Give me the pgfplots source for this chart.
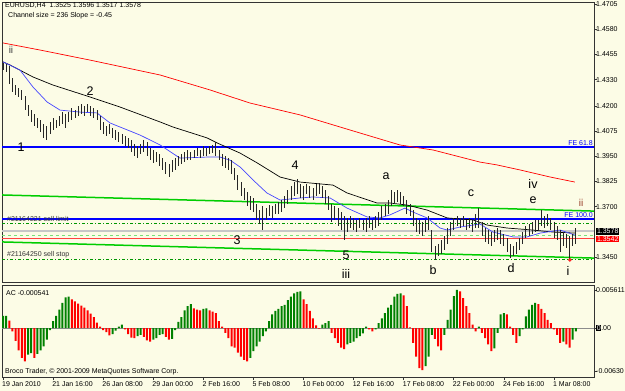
\documentclass[border=0pt]{standalone}
\usepackage{fontspec}
\setmainfont{Liberation Sans}
\usepackage{pgfplots}
\usepackage{pgfplotstable}
\pgfplotsset{compat=1.18}
\definecolor{bg}{RGB}{252,252,230}
\definecolor{acgreen}{RGB}{0,128,0}
\definecolor{acred}{RGB}{255,0,0}
\definecolor{chgreen}{RGB}{0,205,0}
\definecolor{mablue}{RGB}{70,70,255}
\definecolor{ordgreen}{RGB}{0,150,0}
\definecolor{lgreen}{RGB}{120,225,120}
\definecolor{brownlab}{RGB}{150,60,40}
\newcommand\sm{\fontsize{7}{8}\selectfont}
\newcommand\wv{\fontsize{12.5}{13}\selectfont}
\setlength{\fboxsep}{0.6pt}

\pgfplotstableread{
i h l
0 1.4413 1.4378
1 1.4408 1.4368
2 1.4398 1.4308
3 1.4338 1.4269
4 1.4303 1.4254
5 1.4289 1.4244
6 1.4279 1.4229
7 1.4249 1.4179
8 1.4204 1.4150
9 1.4179 1.4120
10 1.4160 1.4100
11 1.4140 1.4090
12 1.4130 1.4070
13 1.4110 1.4041
14 1.4100 1.4031
15 1.4120 1.4060
16 1.4140 1.4080
17 1.4130 1.4090
18 1.4150 1.4100
19 1.4169 1.4110
20 1.4160 1.4090
21 1.4169 1.4120
22 1.4189 1.4130
23 1.4179 1.4140
24 1.4199 1.4150
25 1.4209 1.4160
26 1.4199 1.4150
27 1.4209 1.4169
28 1.4199 1.4150
29 1.4189 1.4140
30 1.4179 1.4130
31 1.4150 1.4080
32 1.4120 1.4060
33 1.4100 1.4050
34 1.4110 1.4060
35 1.4090 1.4041
36 1.4080 1.4031
37 1.4070 1.4021
38 1.4060 1.4011
39 1.4050 1.4001
40 1.4041 1.3991
41 1.4031 1.3971
42 1.4011 1.3951
43 1.4001 1.3941
44 1.4011 1.3961
45 1.4031 1.3971
46 1.4021 1.3951
47 1.3991 1.3931
48 1.3981 1.3917
49 1.3971 1.3921
50 1.3961 1.3902
51 1.3941 1.3882
52 1.3921 1.3862
53 1.3912 1.3847
54 1.3931 1.3872
55 1.3941 1.3882
56 1.3951 1.3902
57 1.3961 1.3912
58 1.3971 1.3921
59 1.3981 1.3931
60 1.3971 1.3931
61 1.3981 1.3941
62 1.3991 1.3951
63 1.3981 1.3941
64 1.4001 1.3951
65 1.3991 1.3951
66 1.4001 1.3961
67 1.4006 1.3966
68 1.4021 1.3951
69 1.3981 1.3931
70 1.3961 1.3902
71 1.3951 1.3892
72 1.3941 1.3882
73 1.3931 1.3862
74 1.3892 1.3832
75 1.3857 1.3783
76 1.3822 1.3753
77 1.3793 1.3733
78 1.3773 1.3703
79 1.3753 1.3683
80 1.3743 1.3673
81 1.3713 1.3634
82 1.3683 1.3614
83 1.3703 1.3584
84 1.3693 1.3634
85 1.3708 1.3654
86 1.3703 1.3644
87 1.3713 1.3664
88 1.3723 1.3664
89 1.3733 1.3673
90 1.3753 1.3693
91 1.3783 1.3713
92 1.3802 1.3733
93 1.3822 1.3753
94 1.3837 1.3763
95 1.3812 1.3743
96 1.3802 1.3733
97 1.3812 1.3763
98 1.3802 1.3743
99 1.3793 1.3733
100 1.3812 1.3753
101 1.3817 1.3763
102 1.3802 1.3743
103 1.3783 1.3713
104 1.3753 1.3683
105 1.3713 1.3624
106 1.3703 1.3634
107 1.3693 1.3604
108 1.3673 1.3584
109 1.3654 1.3535
110 1.3644 1.3574
111 1.3654 1.3594
112 1.3644 1.3584
113 1.3634 1.3574
114 1.3644 1.3594
115 1.3634 1.3584
116 1.3644 1.3574
117 1.3654 1.3594
118 1.3634 1.3584
119 1.3654 1.3594
120 1.3673 1.3604
121 1.3703 1.3634
122 1.3713 1.3654
123 1.3733 1.3664
124 1.3783 1.3703
125 1.3773 1.3713
126 1.3783 1.3723
127 1.3773 1.3713
128 1.3753 1.3703
129 1.3733 1.3664
130 1.3713 1.3654
131 1.3683 1.3604
132 1.3644 1.3574
133 1.3634 1.3564
134 1.3624 1.3554
135 1.3634 1.3574
136 1.3654 1.3584
137 1.3584 1.3475
138 1.3505 1.3435
139 1.3515 1.3455
140 1.3535 1.3465
141 1.3554 1.3485
142 1.3594 1.3515
143 1.3624 1.3554
144 1.3644 1.3584
145 1.3654 1.3604
146 1.3644 1.3594
147 1.3654 1.3604
148 1.3634 1.3584
149 1.3644 1.3594
150 1.3634 1.3574
151 1.3664 1.3594
152 1.3693 1.3594
153 1.3624 1.3554
154 1.3594 1.3525
155 1.3584 1.3515
156 1.3574 1.3505
157 1.3584 1.3525
158 1.3594 1.3535
159 1.3584 1.3515
160 1.3564 1.3505
161 1.3545 1.3475
162 1.3515 1.3445
163 1.3505 1.3455
164 1.3525 1.3465
165 1.3545 1.3485
166 1.3574 1.3515
167 1.3604 1.3545
168 1.3614 1.3554
169 1.3624 1.3564
170 1.3634 1.3574
171 1.3634 1.3584
172 1.3683 1.3604
173 1.3654 1.3594
174 1.3664 1.3604
175 1.3644 1.3584
176 1.3624 1.3545
177 1.3604 1.3535
178 1.3584 1.3475
179 1.3574 1.3505
180 1.3564 1.3495
181 1.3554 1.3430
182 1.3564 1.3505
183 1.3596 1.3517
}\bars

\pgfplotstableread{
i g r
0 0.0018 nan
1 0.0018 nan
2 nan 0.0011
3 nan -0.0005
4 nan -0.0019
5 nan -0.0033
6 nan -0.0044
7 nan -0.0049
8 -0.0039 nan
9 -0.0037 nan
10 nan -0.0044
11 -0.0038 nan
12 -0.0033 nan
13 -0.0027 nan
14 -0.0017 nan
15 -0.0003 nan
16 0.0010 nan
17 0.0018 nan
18 0.0027 nan
19 0.0037 nan
20 0.0045 nan
21 0.0046 nan
22 nan 0.0042
23 nan 0.0039
24 nan 0.0036
25 nan 0.0033
26 nan 0.0030
27 nan 0.0026
28 nan 0.0021
29 nan 0.0016
30 nan 0.0008
31 nan 0.0002
32 nan -0.0003
33 nan -0.0006
34 nan -0.0011
35 -0.0009 nan
36 -0.0004 nan
37 0.0002 nan
38 0.0005 nan
39 nan -0.0002
40 nan -0.0009
41 nan -0.0014
42 nan -0.0015
43 -0.0012 nan
44 -0.0010 nan
45 nan -0.0013
46 nan -0.0018
47 nan -0.0020
48 -0.0017 nan
49 -0.0015 nan
50 -0.0010 nan
51 -0.0009 nan
52 nan -0.0013
53 nan -0.0017
54 -0.0016 nan
55 -0.0003 nan
56 0.0009 nan
57 0.0016 nan
58 0.0026 nan
59 0.0032 nan
60 0.0035 nan
61 nan 0.0029
62 nan 0.0027
63 nan 0.0026
64 0.0028 nan
65 0.0029 nan
66 nan 0.0026
67 nan 0.0024
68 nan 0.0022
69 nan 0.0010
70 nan 0.0002
71 nan -0.0007
72 nan -0.0015
73 nan -0.0027
74 nan -0.0029
75 nan -0.0036
76 nan -0.0042
77 nan -0.0047
78 nan -0.0049
79 -0.0044 nan
80 -0.0034 nan
81 -0.0027 nan
82 -0.0020 nan
83 -0.0012 nan
84 -0.0005 nan
85 0.0010 nan
86 0.0020 nan
87 0.0025 nan
88 0.0028 nan
89 0.0032 nan
90 0.0034 nan
91 0.0041 nan
92 0.0046 nan
93 0.0051 nan
94 0.0053 nan
95 0.0054 nan
96 nan 0.0042
97 nan 0.0035
98 nan 0.0025
99 nan 0.0014
100 nan 0.0004
101 nan -0.0001
102 0.0005 nan
103 0.0007 nan
104 0.0010 nan
105 nan -0.0007
106 nan -0.0015
107 nan -0.0022
108 nan -0.0029
109 nan -0.0031
110 -0.0024 nan
111 -0.0022 nan
112 -0.0020 nan
113 -0.0015 nan
114 -0.0012 nan
115 -0.0008 nan
116 0.0002 nan
117 nan -0.0002
118 nan -0.0005
119 -0.0002 nan
120 0.0007 nan
121 0.0014 nan
122 0.0022 nan
123 0.0030 nan
124 0.0034 nan
125 0.0046 nan
126 0.0050 nan
127 0.0051 nan
128 nan 0.0048
129 nan 0.0032
130 nan 0.0001
131 nan -0.0022
132 nan -0.0042
133 nan -0.0059
134 nan -0.0062
135 -0.0056 nan
136 -0.0042 nan
137 -0.0010 nan
138 nan -0.0016
139 nan -0.0027
140 nan -0.0033
141 -0.0010 nan
142 0.0012 nan
143 0.0027 nan
144 0.0047 nan
145 0.0056 nan
146 nan 0.0054
147 nan 0.0044
148 nan 0.0032
149 nan 0.0022
150 nan 0.0005
151 nan -0.0005
152 0.0002 nan
153 nan -0.0007
154 nan -0.0015
155 nan -0.0024
156 nan -0.0034
157 -0.0030 nan
158 -0.0007 nan
159 0.0020 nan
160 0.0022 nan
161 nan 0.0020
162 nan 0.0002
163 nan -0.0010
164 nan -0.0022
165 -0.0012 nan
166 -0.0002 nan
167 0.0017 nan
168 0.0027 nan
169 0.0034 nan
170 0.0037 nan
171 nan 0.0035
172 nan 0.0028
173 nan 0.0022
174 nan 0.0012
175 nan 0.0007
176 nan -0.0002
177 nan -0.0010
178 nan -0.0022
179 -0.0020 nan
180 nan -0.0024
181 nan -0.0029
182 -0.0017 nan
183 -0.0005 nan
}\ac

\begin{document}
\begin{tikzpicture}
\path[use as bounding box, fill=bg] (0pt,0pt) rectangle (625pt,-391pt);

% ---------- main price panel ----------
\begin{axis}[
  at={(2pt,-2pt)}, anchor=north west, scale only axis,
  width=592pt, height=280pt,
  xmin=-0.32, xmax=188.8, ymin=1.33263, ymax=1.47151,
  axis line style={black!80, line width=0.6pt},
  xtick=\empty,
  ytick={1.4705,1.4580,1.4455,1.4330,1.4200,1.4075,1.3950,1.3825,1.3700,1.3450,1.3325},
  yticklabels={1.4705,1.4580,1.4455,1.4330,1.4200,1.4075,1.3950,1.3825,1.3700,1.3450,1.3325},
  ytick pos=right, yticklabel pos=right,
  tick align=outside, major tick length=3pt,
  tick style={black!80, line width=0.6pt},
  yticklabel style={font=\sm, anchor=west, inner sep=0pt, xshift=-1pt},
  scaled y ticks=false,
]
% horizontal price / order lines
\addplot[black!22, line width=1.6pt] coordinates {(-0.32,1.3578) (188.8,1.3578)};
\addplot[acred!75, line width=1.4pt] coordinates {(-0.32,1.3542) (188.8,1.3542)};
\addplot[ordgreen, line width=0.7pt, dash pattern=on 3pt off 2pt on 1pt off 2pt] coordinates {(-0.32,1.3616) (188.8,1.3616)};
\addplot[lgreen, line width=0.8pt, dash pattern=on 3pt off 3pt] coordinates {(-0.32,1.3559) (188.8,1.3559)};
\addplot[ordgreen, line width=0.7pt, dash pattern=on 3pt off 2pt on 1pt off 2pt] coordinates {(-0.32,1.3440) (188.8,1.3440)};
% regression channel
\addplot[chgreen, line width=1.5pt] coordinates {(-0.32,1.3758) (188.8,1.3678)};
\addplot[chgreen, line width=1.5pt] coordinates {(-0.32,1.3525) (188.8,1.3445)};
% Fibonacci expansion levels
\addplot[blue, line width=1.5pt] coordinates {(-0.32,1.3996) (188.8,1.3996)};
\addplot[blue, line width=1.5pt] coordinates {(-0.32,1.3639) (188.8,1.3639)};
% moving averages
\addplot[red, line width=0.7pt] coordinates {
(0,1.4512) (11.8,1.4477) (27.8,1.4427) (50.2,1.4353) (66.1,1.4279) (78.9,1.4214)
(94.9,1.4155) (110.9,1.4080) (126.8,1.4006) (137.4,1.3981) (152.4,1.3921)
(157.8,1.3907) (165.2,1.3882) (174.8,1.3847) (182.7,1.3822)};
\addplot[black, line width=0.7pt] coordinates {
(0,1.4418) (2.2,1.4403) (9.6,1.4343) (16.0,1.4303) (27.8,1.4244) (37.4,1.4194)
(50.2,1.4120) (54.3,1.4095) (65.2,1.4041) (68.4,1.4016) (75.7,1.3966) (81.2,1.3917)
(88.5,1.3847) (94.9,1.3822) (105.4,1.3807) (109.9,1.3768) (119.5,1.3718)
(123.6,1.3718) (129.1,1.3708) (135.5,1.3683) (141.9,1.3644) (150.2,1.3634)
(154.6,1.3609) (161.0,1.3594) (169.3,1.3584) (175.7,1.3574) (182.7,1.3569)};
\addplot[mablue, line width=0.7pt] coordinates {
(0,1.4418) (5.4,1.4378) (9.6,1.4293) (14.1,1.4219) (18.2,1.4179) (24.6,1.4169)
(30.0,1.4165) (34.2,1.4115) (43.8,1.4055) (50.2,1.4006) (56.5,1.3941) (65.2,1.3946)
(69.3,1.3946) (72.5,1.3931) (75.7,1.3897) (79.9,1.3832) (84.3,1.3768) (88.5,1.3733)
(94.9,1.3743) (99.0,1.3748) (104.5,1.3743) (109.9,1.3693) (116.3,1.3649)
(120.4,1.3644) (123.6,1.3659) (128.4,1.3693) (131.0,1.3673) (135.5,1.3644)
(139.6,1.3594) (141.9,1.3584) (146.0,1.3599) (152.4,1.3614) (156.5,1.3574)
(162.9,1.3550) (167.4,1.3550) (171.6,1.3569) (178.0,1.3584) (182.7,1.3559)};
% price bars (high-low)
\addplot[draw=none, mark=none, forget plot,
  error bars/.cd, y dir=both, y explicit, error mark=none,
  error bar style={draw=black!85, line width=0.75pt, solid}]
  table[x=i, y expr={(\thisrow{h}+\thisrow{l})/2}, y error expr={(\thisrow{h}-\thisrow{l})/2}] {\bars};
\addplot[only marks, mark=*, mark size=1.6pt, red, mark options={fill=red!80}] coordinates {(181.1,1.3436)};
\end{axis}

% ---------- AC sub-panel ----------
\begin{axis}[
  at={(2pt,-285pt)}, anchor=north west, scale only axis,
  width=592pt, height=92pt,
  xmin=-0.32, xmax=188.8, ymin=-0.0072, ymax=0.00632,
  axis line style={black!80, line width=0.6pt},
  xtick={0,16,32,48,64,80,96,112,128,144,160,176},
  xticklabels={19 Jan 2010,21 Jan 16:00,26 Jan 08:00,29 Jan 00:00,2 Feb 16:00,5 Feb 08:00,10 Feb 00:00,12 Feb 16:00,17 Feb 08:00,22 Feb 00:00,24 Feb 16:00,1 Mar 08:00},
  xtick pos=bottom,
  xticklabel style={font=\sm, anchor=north west, inner sep=0pt, xshift=-1pt, yshift=-1pt},
  ytick={0.005611,0,-0.0063},
  yticklabels={0.005611,{\colorbox{black}{\textcolor{white}{0}}.00},-0.00630},
  ytick pos=right, yticklabel pos=right,
  tick align=outside, major tick length=3pt,
  tick style={black!80, line width=0.6pt},
  yticklabel style={font=\sm, anchor=west, inner sep=0pt, xshift=-1pt},
  scaled y ticks=false,
]
\addplot[black!45, line width=0.6pt] coordinates {(-0.32,0) (188.8,0)};
\addplot[ybar, bar width=2pt, bar shift=0pt, fill=acgreen, draw=none] table[x=i, y=g] {\ac};
\addplot[ybar, bar width=2pt, bar shift=0pt, fill=acred, draw=none] table[x=i, y=r] {\ac};
\end{axis}

% ---------- texts ----------
\node[font=\sm, anchor=west, inner sep=0pt] at (5pt,-6pt) {EURUSD,H4\ \ 1.3525 1.3596 1.3517 1.3578};
\node[font=\sm, anchor=west, inner sep=0pt] at (8pt,-15.5pt) {Channel size = 236 Slope = -0.45};
\node[font=\sm, anchor=west, inner sep=0pt] at (6pt,-293pt) {AC -0.000541};
\node[font=\sm, anchor=west, inner sep=0pt] at (5pt,-371.5pt) {Broco Trader, © 2001-2009 MetaQuotes Software Corp.};
\node[font=\sm, anchor=west, inner sep=0pt, text=black!80] at (7pt,-218.5pt) {\#21164221 sell limit};
\node[font=\sm, anchor=west, inner sep=0pt, text=black!80] at (7pt,-255pt) {\#21164250 sell stop};
\node[font=\sm, anchor=south east, inner sep=0pt, text=blue] at (593pt,-145.5pt) {FE 61.8};
\node[font=\sm, anchor=south east, inner sep=0pt, text=blue] at (593pt,-217.5pt) {FE 100.0};
\node[font=\sm, anchor=west, fill=black, text=white, inner sep=0.8pt] at (596pt,-231.3pt) {1.3578};
\node[font=\sm, anchor=west, fill=red, text=white, inner sep=0.8pt] at (596pt,-238.8pt) {1.3542};
% wave labels
\node[font=\fontsize{10}{11}\selectfont, text=black!75] at (11pt,-50pt) {ii};
\node[font=\wv] at (90pt,-91pt) {2};
\node[font=\wv] at (21pt,-147pt) {1};
\node[font=\wv] at (237pt,-240pt) {3};
\node[font=\wv] at (295pt,-165pt) {4};
\node[font=\wv] at (346pt,-255pt) {5};
\node[font=\wv] at (346pt,-274pt) {iii};
\node[font=\wv] at (386pt,-176pt) {a};
\node[font=\wv] at (433pt,-270pt) {b};
\node[font=\wv] at (471pt,-193pt) {c};
\node[font=\wv] at (511pt,-268pt) {d};
\node[font=\wv] at (533pt,-184pt) {iv};
\node[font=\wv] at (533pt,-200pt) {e};
\node[font=\fontsize{10}{11}\selectfont, text=brownlab] at (581pt,-203pt) {ii};
\node[font=\wv] at (568pt,-271pt) {i};
\end{tikzpicture}
\end{document}
